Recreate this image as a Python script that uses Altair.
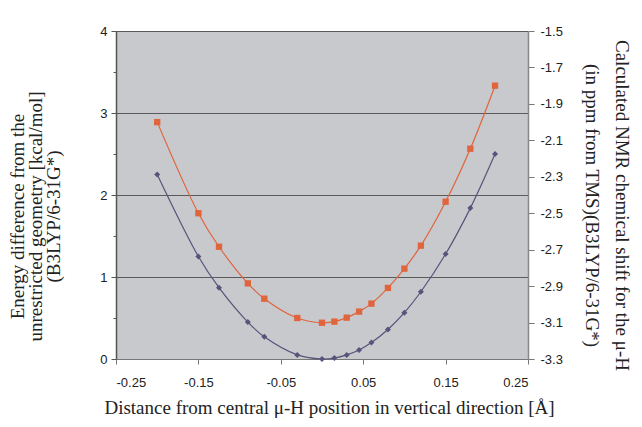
import altair as alt
import pandas as pd

distance = [-0.2, -0.15, -0.125, -0.09, -0.07, -0.03, 0.0, 0.015, 0.03, 0.045,
            0.06, 0.08, 0.10, 0.12, 0.15, 0.18, 0.21]
energy = [2.25, 1.25, 0.87, 0.45, 0.27, 0.05, 0.0, 0.012, 0.05, 0.11,
          0.20, 0.36, 0.565, 0.82, 1.28, 1.84, 2.50]
nmr = [-2.00, -2.50, -2.684, -2.885, -2.969, -3.075, -3.101, -3.095, -3.073, -3.040,
       -2.996, -2.910, -2.804, -2.678, -2.437, -2.146, -1.800]

x_ticks = [-0.25, -0.15, -0.05, 0.05, 0.15, 0.25]
left_ticks = [0, 0.5, 1, 1.5, 2, 2.5, 3, 3.5, 4]
right_ticks = [-3.3, -3.1, -2.9, -2.7, -2.5, -2.3, -2.1, -1.9, -1.7, -1.5]

df = pd.DataFrame({"distance": distance, "energy": energy, "nmr": nmr})

SANS = "Liberation Sans"
SERIF = "Liberation Serif"
DARK = "#57537a"
ORANGE = "#e0643c"
HYPHEN = "replace(datum.label, '\u2212', '-')"

x_enc = alt.X(
    "distance:Q",
    scale=alt.Scale(domain=[-0.25, 0.25], nice=False, zero=False),
    axis=alt.Axis(
        values=x_ticks, format=".2f", grid=False, labelExpr=HYPHEN,
        title="Distance from central \u03bc-H position in vertical direction [\u00c5]",
        titleFont=SERIF, titleFontSize=19, titleFontWeight="normal", titleColor="#222",
        titlePadding=9, titleX=213,
        labelFont=SANS, labelFontSize=13, labelColor="#222", labelPadding=12,
        domainColor="#777", tickColor="#777", tickSize=5,
    ),
)

base = alt.Chart(df)

energy_y = alt.Y(
    "energy:Q",
    scale=alt.Scale(domain=[0, 4], nice=False),
    axis=alt.Axis(
        values=left_ticks, orient="left",
        labelExpr="datum.value % 1 === 0 ? format(datum.value, 'd') : ''",
        title=["Energy difference from the", "unrestricted geometry [kcal/mol]", "(B3LYP/6-31G*)"],
        titleFont=SERIF, titleFontSize=19, titleFontWeight="normal", titleColor="#222",
        titleLineHeight=18, titlePadding=36, titleY=185,
        labelFont=SANS, labelFontSize=13, labelColor="#222", labelPadding=4,
        domainColor="#555", domainWidth=1.5, tickColor="#555",
        tickSize={"expr": "datum.value % 1 === 0 ? 5 : 3"},
        grid=True, gridColor="#5a5a5a", gridWidth=1,
        gridOpacity={"expr": "datum.value % 1 === 0 ? 1 : 0"},
    ),
)

energy_line = base.mark_line(color=DARK, strokeWidth=1.2, interpolate="catmull-rom").encode(x=x_enc, y=energy_y)
energy_pts = base.mark_point(shape="diamond", filled=True, color=DARK, size=36, opacity=1).encode(x=x_enc, y=energy_y)

nmr_y = alt.Y(
    "nmr:Q",
    scale=alt.Scale(domain=[-3.3, -1.5], nice=False, zero=False),
    axis=alt.Axis(
        values=right_ticks, orient="right", format=".1f", grid=False, labelExpr=HYPHEN,
        title=["Calculated NMR chemical shift for the \u03bc-H", "(in ppm from TMS)(B3LYP/6-31G*)"],
        titleAngle=90, titleBaseline="bottom",
        titleFont=SERIF, titleFontSize=19, titleFontWeight="normal", titleColor="#222",
        titleLineHeight=30, titlePadding=19, titleY=174,
        labelFont=SANS, labelFontSize=13, labelColor="#222", labelPadding=6,
        domainColor="#888", domainWidth=1.5, tickColor="#777", tickSize=6,
    ),
)

nmr_line = base.mark_line(color=ORANGE, strokeWidth=1.2, interpolate="catmull-rom").encode(x=x_enc, y=nmr_y)
nmr_pts = base.mark_point(shape="square", filled=True, color=ORANGE, size=40, opacity=1).encode(x=x_enc, y=nmr_y)

left = alt.layer(energy_line, energy_pts)
right = alt.layer(nmr_line, nmr_pts)

chart = (
    alt.layer(left, right)
    .resolve_scale(y="independent")
    .properties(
        width=412, height=328,
        autosize=alt.AutoSizeParams(type="none"),
        padding={"left": 108, "top": 23, "right": 106, "bottom": 60},
        background="white",
    )
    .configure_view(fill="#c8c9cd", stroke=None)
)

chart.save("out.html", embed_options={"renderer": "svg", "actions": False})
